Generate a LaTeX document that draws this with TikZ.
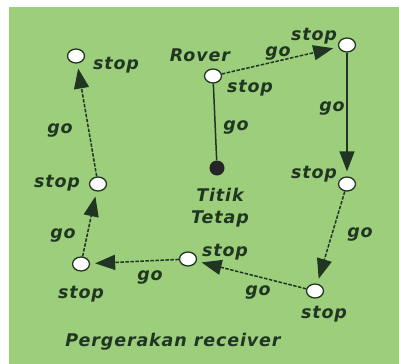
\documentclass[tikz,border=0pt]{standalone}
\usepackage{fontspec}
\setmainfont{DejaVu Sans}
\usepackage{tikz}
\usetikzlibrary{arrows.meta}
\usetikzlibrary{shapes.geometric}
\definecolor{boardgreen}{RGB}{156, 206, 124}
\definecolor{inkgreen}{RGB}{32, 54, 34}
\newfontfamily\boardfont[LetterSpace=5]{DejaVu Sans}

\begin{document}
\begin{tikzpicture}[x=1pt, y=-1pt,
            point/.style = {
                ellipse,
                draw=inkgreen,
                fill=white,
                line width=1.3pt,
                inner sep=0pt,
                minimum width=17pt,
                minimum height=14pt},
            fixed/.style = {
                circle,
                fill=black!85,
                inner sep=0pt,
                minimum size=15pt},
            txt/.style = {
                text=inkgreen,
                inner sep=0pt,
                font=\boardfont\fontsize{17.5}{20}\selectfont\bfseries\itshape},
            move/.style = {
                draw=inkgreen,
                line width=1.5pt,
                dash pattern=on 3.5pt off 1.5pt,
                -{Triangle[length=20pt, width=15pt]},
                shorten >=5pt}]
            \useasboundingbox (0,0) rectangle (399,364);
            \fill[boardgreen] (9,7) rectangle (399,364);
            % titik
            \node[point] (rover) at (213,76) {};
            \node[fixed] (fix) at (217,168) {};
            \node[point] (tr) at (347,45) {};
            \node[point] (rm) at (347,184) {};
            \node[point] (br) at (315,291) {};
            \node[point] (bm) at (188,259) {};
            \node[point] (bl) at (81,264) {};
            \node[point] (lm) at (98,184) {};
            \node[point] (tl) at (76,56) {};
            % tulisan
            \node[txt] (rovername) at (200,55) {Rover};
            \node[txt] (roverstop) at (250,88) {stop};
            \node[txt] (fixname) at (220,195) {Titik};
            \node[txt] (fixname2) at (220,219) {Tetap};
            \node[txt] (trstop) at (314,36) {stop};
            \node[txt] (rmstop) at (314,174) {stop};
            \node[txt] (brstop) at (324,314) {stop};
            \node[txt] (bmstop) at (225,252) {stop};
            \node[txt] (blstop) at (81,294) {stop};
            \node[txt] (lmstop) at (57,183) {stop};
            \node[txt] (tlstop) at (116,65) {stop};
            \node[txt] (go1) at (278,53) {go};
            \node[txt] (go2) at (236,127) {go};
            \node[txt] (go3) at (332,108) {go};
            \node[txt] (go4) at (360,234) {go};
            \node[txt] (go5) at (258,292) {go};
            \node[txt] (go6) at (150,277) {go};
            \node[txt] (go7) at (63,235) {go};
            \node[txt] (go8) at (60,130) {go};
            \node[txt] (caption) at (173,342) {Pergerakan receiver};
            % garis
            \draw[draw=inkgreen, line width=1.5pt] (rover) -- (fix);
            \draw[move] (rover) -- (tr);
            \draw[move, solid] (tr) -- (rm);
            \draw[move] (rm) -- (br);
            \draw[move] (br) -- (bm);
            \draw[move] (bm) -- (bl);
            \draw[move] (bl) -- (lm);
            \draw[move] (lm) -- (tl);
        \end{tikzpicture}
\end{document}
